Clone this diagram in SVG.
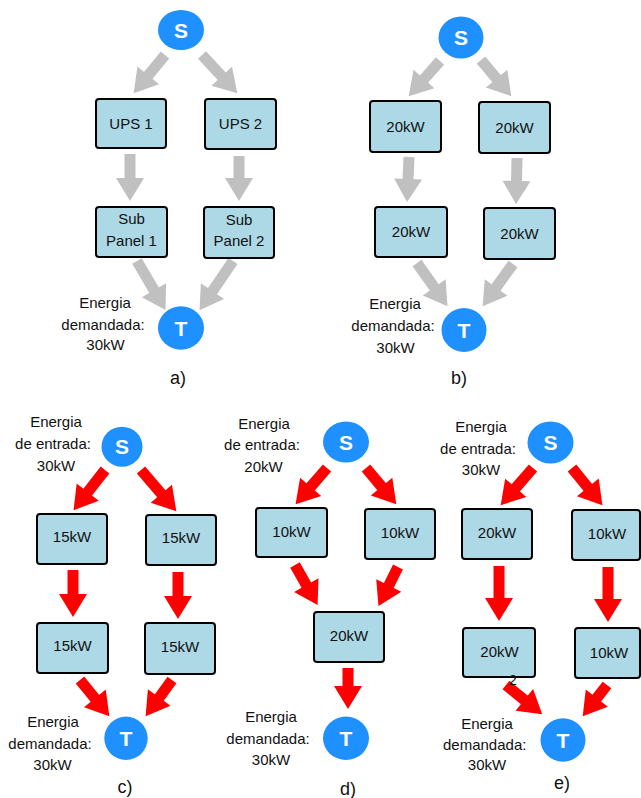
<svg xmlns="http://www.w3.org/2000/svg" width="641" height="798" viewBox="0 0 641 798">
<style>
text{font-family:"Liberation Sans",Arial,sans-serif;fill:#111}
.box{fill:#add8e6;stroke:#000;stroke-width:2}
.bt{font-size:15px;text-anchor:middle}
.lb{font-size:15px;text-anchor:middle}
.cap{font-size:18px;text-anchor:middle}
.circ{fill:#1e90ff}
.ct{font-size:21px;font-weight:bold;fill:#fff;text-anchor:middle}
.ga{stroke:#c0c0c0;stroke-width:11;fill:none;marker-end:url(#hg)}
.ra{stroke:#ff0000;stroke-width:11;fill:none;marker-end:url(#hr)}
</style>
<defs>
<marker id="hg" markerUnits="userSpaceOnUse" markerWidth="23" markerHeight="28" refX="1" refY="14" orient="auto" overflow="visible"><path d="M0,0 L23,14 L0,28 Z" fill="#c0c0c0"/></marker>
<marker id="hr" markerUnits="userSpaceOnUse" markerWidth="23" markerHeight="28" refX="1" refY="14" orient="auto" overflow="visible"><path d="M0,0 L23,14 L0,28 Z" fill="#ff0000"/></marker>
</defs>
<g id="connectors">
<!-- a -->
<path class="ga" d="M165,55 L147.6,76.2"/>
<path class="ga" d="M202,55 L222.4,77.1"/>
<path class="ga" d="M130,154 L130,179"/>
<path class="ga" d="M239,156 L239,179"/>
<path class="ga" d="M137,261 L154.5,291.1"/>
<path class="ga" d="M233,261 L211.9,292"/>
<!-- b -->
<path class="ga" d="M440,61 L423.3,79.8"/>
<path class="ga" d="M481,60 L497.2,79.4"/>
<path class="ga" d="M409,157 L408,180"/>
<path class="ga" d="M517,158 L516.5,182"/>
<path class="ga" d="M417,263 L434.8,288.2"/>
<path class="ga" d="M513,264 L495.5,288.3"/>
<!-- c -->
<path class="ra" d="M105,470 L87.1,492.9"/>
<path class="ra" d="M141,470 L162,494.5"/>
<path class="ra" d="M73,570 L73,595"/>
<path class="ra" d="M178,572 L178,597"/>
<path class="ra" d="M80,680 L95.5,699.1"/>
<path class="ra" d="M172,680 L158.6,698.4"/>
<!-- d -->
<path class="ra" d="M327,468 L310,487.6"/>
<path class="ra" d="M366,468 L382.2,487.4"/>
<path class="ra" d="M295,565 L306.8,585.9"/>
<path class="ra" d="M398,567 L388.3,586.4"/>
<path class="ra" d="M348,668 L348,687"/>
<!-- e -->
<path class="ra" d="M533,468 L515.1,488.6"/>
<path class="ra" d="M572,468 L588.5,488.2"/>
<path class="ra" d="M499,566 L499,599"/>
<path class="ra" d="M608,567 L608,600"/>
<path class="ra" d="M506,685 L525.1,700.5"/>
<path class="ra" d="M607,685 L596.2,698.9"/>
</g>
<!-- Panel a -->
<g id="a-S"><ellipse class="circ" cx="181" cy="30" rx="23" ry="20"/><text class="ct" x="181" y="37.5">S</text></g>
<g id="a-ups1"><rect class="box" x="96" y="99" width="70" height="49" rx="3"/><text class="bt" x="131" y="128.5">UPS 1</text></g>
<g id="a-ups2"><rect class="box" x="205" y="99" width="71" height="50" rx="3"/><text class="bt" x="240.5" y="129">UPS 2</text></g>
<g id="a-sub1"><rect class="box" x="96" y="207" width="71" height="50" rx="3"/><text class="bt" x="131.5" y="224">Sub</text><text class="bt" x="131.5" y="245.5">Panel 1</text></g>
<g id="a-sub2"><rect class="box" x="204" y="207" width="70" height="51" rx="3"/><text class="bt" x="239" y="224.5">Sub</text><text class="bt" x="239" y="246">Panel 2</text></g>
<g id="a-T"><ellipse class="circ" cx="181" cy="328" rx="23" ry="21.7"/><text class="ct" x="181" y="335.5">T</text></g>
<g id="a-label"><text class="lb" x="105" y="308">Energia</text><text class="lb" x="103" y="330">demandada:</text><text class="lb" x="105.5" y="350">30kW</text></g>
<text class="cap" x="178" y="384">a)</text>
<!-- Panel b -->
<g id="b-S"><ellipse class="circ" cx="461" cy="37.5" rx="22.5" ry="21"/><text class="ct" x="461" y="45">S</text></g>
<g id="b-n1"><rect class="box" x="370" y="101" width="71" height="51" rx="3"/><text class="bt" x="405.5" y="131.5">20kW</text></g>
<g id="b-n2"><rect class="box" x="479" y="102" width="71" height="51" rx="3"/><text class="bt" x="514.5" y="132.5">20kW</text></g>
<g id="b-n3"><rect class="box" x="375" y="207" width="72" height="50" rx="3"/><text class="bt" x="411" y="237">20kW</text></g>
<g id="b-n4"><rect class="box" x="484" y="208" width="71" height="51" rx="3"/><text class="bt" x="519.5" y="238.5">20kW</text></g>
<g id="b-T"><ellipse class="circ" cx="464" cy="330" rx="22.5" ry="22"/><text class="ct" x="464" y="337.5">T</text></g>
<g id="b-label"><text class="lb" x="395" y="309">Energia</text><text class="lb" x="393" y="330.5">demandada:</text><text class="lb" x="395.5" y="352.5">30kW</text></g>
<text class="cap" x="459" y="384">b)</text>
<!-- Panel c -->
<g id="c-S"><ellipse class="circ" cx="122" cy="446.7" rx="20.5" ry="20"/><text class="ct" x="122" y="454">S</text></g>
<g id="c-in"><text class="lb" x="56" y="427">Energia</text><text class="lb" x="53" y="449">de entrada:</text><text class="lb" x="56" y="471">30kW</text></g>
<g id="c-n1"><rect class="box" x="37" y="514" width="70" height="50" rx="3"/><text class="bt" x="72" y="542">15kW</text></g>
<g id="c-n2"><rect class="box" x="146" y="515" width="70" height="50" rx="3"/><text class="bt" x="181" y="543">15kW</text></g>
<g id="c-n3"><rect class="box" x="37" y="623" width="71" height="50" rx="3"/><text class="bt" x="72.5" y="651">15kW</text></g>
<g id="c-n4"><rect class="box" x="145" y="623" width="70" height="51" rx="3"/><text class="bt" x="180" y="652">15kW</text></g>
<g id="c-T"><ellipse class="circ" cx="126" cy="738.3" rx="21.7" ry="21.7"/><text class="ct" x="126" y="745.8">T</text></g>
<g id="c-label"><text class="lb" x="53" y="727">Energia</text><text class="lb" x="50" y="748.5">demandada:</text><text class="lb" x="52.5" y="769.5">30kW</text></g>
<text class="cap" x="125" y="793">c)</text>
<!-- Panel d -->
<g id="d-S"><ellipse class="circ" cx="346" cy="442" rx="23" ry="20.5"/><text class="ct" x="346" y="449.5">S</text></g>
<g id="d-in"><text class="lb" x="264" y="428.5">Energia</text><text class="lb" x="262" y="450">de entrada:</text><text class="lb" x="263.5" y="471.5">20kW</text></g>
<g id="d-n1"><rect class="box" x="256" y="508" width="71" height="49" rx="3"/><text class="bt" x="291.5" y="537">10kW</text></g>
<g id="d-n2"><rect class="box" x="365" y="509" width="70" height="50" rx="3"/><text class="bt" x="400" y="538">10kW</text></g>
<g id="d-n3"><rect class="box" x="314" y="612" width="70" height="50" rx="3"/><text class="bt" x="349" y="641">20kW</text></g>
<g id="d-T"><ellipse class="circ" cx="346" cy="738.3" rx="23" ry="21.7"/><text class="ct" x="346" y="745.8">T</text></g>
<g id="d-label"><text class="lb" x="271" y="722">Energia</text><text class="lb" x="268" y="743.5">demandada:</text><text class="lb" x="271" y="764.5">30kW</text></g>
<text class="cap" x="348" y="795">d)</text>
<!-- Panel e -->
<g id="e-S"><ellipse class="circ" cx="550.5" cy="442.5" rx="23" ry="21"/><text class="ct" x="550.5" y="450">S</text></g>
<g id="e-in"><text class="lb" x="481" y="432">Energia</text><text class="lb" x="478" y="453.5">de entrada:</text><text class="lb" x="481" y="475">30kW</text></g>
<g id="e-n1"><rect class="box" x="462" y="509" width="70" height="50" rx="3"/><text class="bt" x="497" y="538">20kW</text></g>
<g id="e-n2"><rect class="box" x="572" y="510" width="68" height="50" rx="3"/><text class="bt" x="607" y="539">10kW</text></g>
<g id="e-n3"><rect class="box" x="463" y="628" width="72" height="49" rx="3"/><text class="bt" x="499.5" y="656.5">20kW</text></g>
<g id="e-n4"><rect class="box" x="575" y="628" width="65" height="50" rx="3"/><text class="bt" x="609" y="657.5">10kW</text></g>
<text class="bt" x="513" y="685" style="font-size:14px">2</text>
<g id="e-T"><ellipse class="circ" cx="563" cy="740" rx="22.5" ry="21.7"/><text class="ct" x="563" y="747.5">T</text></g>
<g id="e-label"><text class="lb" x="487" y="728.5">Energia</text><text class="lb" x="484.7" y="749.5">demandada:</text><text class="lb" x="487" y="770">30kW</text></g>
<text class="cap" x="562" y="788.5">e)</text>
</svg>
